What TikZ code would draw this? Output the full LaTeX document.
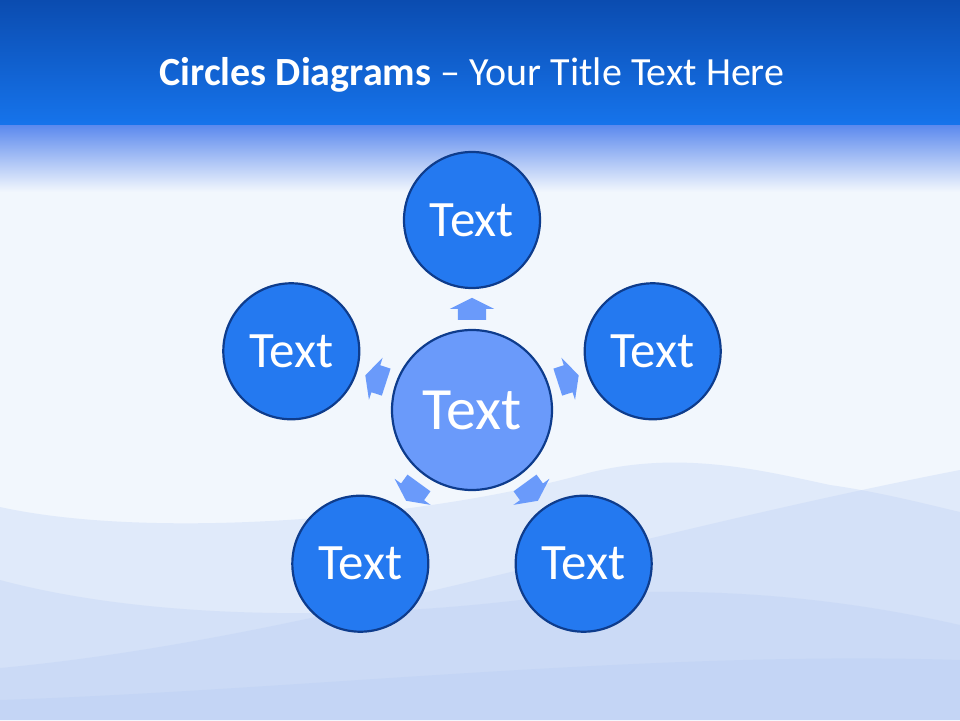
\documentclass[tikz,border=0pt]{standalone}
\usepackage{fontspec}
\setmainfont{Carlito}
\usetikzlibrary{shapes.arrows}

\definecolor{headtop}{HTML}{0B4CB0}
\definecolor{headbot}{HTML}{1674EC}
\definecolor{fadetop}{HTML}{5E8BEE}
\definecolor{fademid}{HTML}{B3C9F5}
\definecolor{paper}{HTML}{F2F7FD}
\definecolor{wave}{HTML}{B9CDF4}
\definecolor{outerfill}{HTML}{2479F0}
\definecolor{hubfill}{HTML}{6A9AFA}
\definecolor{rim}{HTML}{0E3C8C}

\begin{document}
\begin{tikzpicture}[x=1pt, y=1pt,
    bubble/.style={circle, draw=rim, line width=2.2pt, fill=outerfill,
                   text=white, minimum size=136pt, inner sep=0pt,
                   font=\fontsize{51}{51}\selectfont},
    hub/.style={bubble, fill=hubfill, minimum size=160pt,
                font=\fontsize{60}{60}\selectfont},
    pointer/.style={single arrow, fill=hubfill, draw=none,
                    inner xsep=0pt, inner ysep=14pt,
                    single arrow head extend=8pt,
                    single arrow tip angle=127,
                    minimum height=22pt}]
  \useasboundingbox (-472,-310) rectangle (488,410);

  % background
  \fill[paper] (-472,-310) rectangle (488,410);
  \shade[top color=headtop, bottom color=headbot] (-472,410) rectangle (488,284);
  \shade[top color=fadetop, middle color=fademid, bottom color=paper] (-472,284) rectangle (488,218);
  \begin{scope}[shift={(-472,410)}, yscale=-1]
    \fill[wave, opacity=0.3] (0,507) .. controls (150,540) and (420,520) .. (588,473)
      .. controls (680,450) and (760,470) .. (830,485)
      .. controls (880,492) and (930,505) .. (960,512) -- (960,720) -- (0,720) -- cycle;
    \fill[wave, opacity=0.3] (0,580) .. controls (150,620) and (350,620) .. (520,600)
      .. controls (700,580) and (850,600) .. (960,625) -- (960,720) -- (0,720) -- cycle;
    \fill[wave, opacity=0.3] (0,668) .. controls (300,640) and (600,540) .. (960,470)
      -- (960,720) -- (0,720) -- cycle;
    \fill[wave, opacity=0.35] (0,700) .. controls (300,690) and (650,650) .. (960,660)
      -- (960,720) -- (0,720) -- cycle;
  \end{scope}

  % title
  \node[text=white, font=\fontsize{40}{40}\selectfont] (title) at (0,335)
    {\textbf{Circles Diagrams} -- Your Title Text Here};

  % circles
  \node[hub] (C0) at (0,0) {Text};
  \foreach \a [count=\i] in {90,18,-54,-126,162} {
      \node[bubble] (C\i) at (\a:190) {Text};
      \node[pointer, rotate=\a, anchor=tail] (A\i) at (\a:90) {};
  }
\end{tikzpicture}
\end{document}
